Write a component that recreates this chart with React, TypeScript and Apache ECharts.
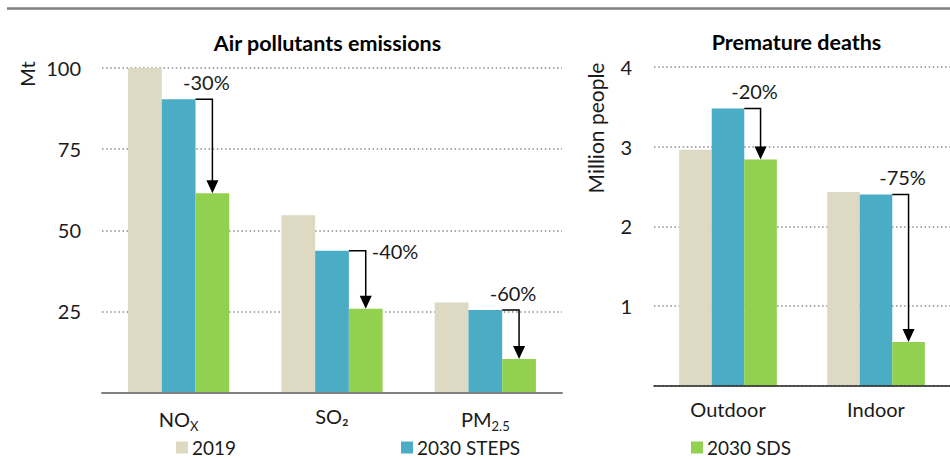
import React, { useEffect, useRef } from "react";
import * as echarts from "echarts";

// ---------- data ----------
const emissionCategories = ["NOX", "SO₂", "PM2.5"];
const emissions2019 = [100, 54.6, 27.7];
const emissionsSteps = [90.4, 43.7, 25.4];
const emissionsSds = [61.4, 25.8, 10.3];
const emissionChangeLabels = ["-30%", "-40%", "-60%"];
const emissionTicks = [0, 25, 50, 75, 100];

const deathCategories = ["Outdoor", "Indoor"];
const deaths2019 = [2.96, 2.43];
const deathsSteps = [3.48, 2.4];
const deathsSds = [2.84, 0.55];
const deathChangeLabels = ["-20%", "-75%"];
const deathTicks = [0, 1, 2, 3, 4];

const seriesNames = ["2019", "2030 STEPS", "2030 SDS"];

// ---------- style ----------
const COLORS = ["#DDD9C3", "#4BACC6", "#92D050"];
const FONT = "Lato";
const TEXT = "#1a1a1a";
const emissionLabelPlacement = ["above", "right", "above"];
const deathLabelPlacement = ["above", "above"];

const catLabelMap: Record<string, string> = {
  NOX: "NO{sub|X}",
  "PM2.5": "PM{sub|2.5}",
};

function arrowSeries(
  gridIndex: number,
  steps: number[],
  sds: number[],
  labels: string[],
  placement: string[]
) {
  return {
    type: "custom",
    xAxisIndex: gridIndex,
    yAxisIndex: gridIndex,
    silent: true,
    z: 10,
    data: steps.map((v, i) => [i, v, sds[i]]),
    renderItem: (params: any, api: any) => {
      const i = api.value(0);
      const top = api.coord([i, api.value(1)]);
      const bot = api.coord([i, api.value(2)]);
      const band = api.size([1, 0])[0];
      const barW = band * 0.22;
      const cx = top[0];
      const x0 = cx + barW / 2;
      const x1 = cx + barW;
      const yTop = top[1];
      const yBot = bot[1];
      const head = 13;
      const place = placement[i];
      const text =
        place === "right"
          ? { x: x1 + 6, y: yTop, align: "left", verticalAlign: "middle" }
          : { x: x1 - 6, y: yTop - 17, align: "center", verticalAlign: "middle" };
      return {
        type: "group",
        children: [
          {
            type: "polyline",
            shape: { points: [[x0, yTop], [x1, yTop], [x1, yBot - head + 1]] },
            style: { stroke: "#000", lineWidth: 1.5, fill: null },
          },
          {
            type: "polygon",
            shape: { points: [[x1 - 6, yBot - head], [x1 + 6, yBot - head], [x1, yBot]] },
            style: { fill: "#000" },
          },
          {
            type: "text",
            style: {
              text: labels[i],
              x: text.x,
              y: text.y,
              align: text.align,
              verticalAlign: text.verticalAlign,
              fill: TEXT,
              fontSize: 20,
              fontFamily: FONT,
            },
          },
        ],
      };
    },
  };
}

function barSeries(gridIndex: number, name: string, data: number[], color: string) {
  return {
    type: "bar",
    name,
    xAxisIndex: gridIndex,
    yAxisIndex: gridIndex,
    data,
    barWidth: "22%",
    barGap: "0%",
    itemStyle: { color },
  };
}

export default function App() {
  const ref = useRef<HTMLDivElement>(null);
  useEffect(() => {
    if (!ref.current) return;
    const chart = echarts.init(ref.current, undefined, { renderer: "svg" });
    const yAxisCommon = (ticks: number[], margin: number) => ({
      type: "value",
      min: ticks[0],
      max: ticks[ticks.length - 1],
      interval: ticks[1] - ticks[0],
      axisLine: { show: false },
      axisTick: { show: false },
      axisLabel: {
        showMinLabel: false,
        color: TEXT,
        fontSize: 20,
        fontFamily: FONT,
        margin,
      },
      splitLine: {
        show: true,
        lineStyle: { color: "#8c8c8c", width: 1.5, type: [1.5, 2.6] },
      },
    });
    const xAxisCommon = (cats: string[], lineColor: string, lineWidth: number) => ({
      type: "category",
      data: cats,
      axisTick: { show: false },
      axisLine: { show: true, lineStyle: { color: lineColor, width: lineWidth } },
      axisLabel: {
        color: TEXT,
        fontSize: 20,
        fontFamily: FONT,
        margin: 13,
        formatter: (v: string) => catLabelMap[v] ?? v,
        rich: {
          sub: { fontSize: 13, fontFamily: FONT, color: TEXT, padding: [14, 0, 0, 0] },
        },
      },
      z: 5,
    });
    const legendItem = (name: string, left: number) => ({
      left,
      top: 438,
      padding: 0,
      itemWidth: 12,
      itemHeight: 12,
      icon: "rect",
      selectedMode: false,
      data: [name],
      textStyle: { color: TEXT, fontSize: 19, lineHeight: 16, fontFamily: FONT, padding: [0, 0, 0, -1] },
    });
    chart.setOption({
      animation: false,
      backgroundColor: "#fff",
      grid: [
        { left: 102, right: 388, top: 68, bottom: 66.5 },
        { left: 654, right: -2, top: 67, bottom: 73.3 },
      ],
      xAxis: [
        { ...xAxisCommon(emissionCategories, "#808080", 2), gridIndex: 0 },
        { ...xAxisCommon(deathCategories, "#222", 1.5), gridIndex: 1 },
      ],
      yAxis: [
        { ...yAxisCommon(emissionTicks, 21), gridIndex: 0 },
        { ...yAxisCommon(deathTicks, 22), gridIndex: 1 },
      ],
      legend: [
        legendItem(seriesNames[0], 176),
        legendItem(seriesNames[1], 401),
        legendItem(seriesNames[2], 691),
      ],
      series: [
        barSeries(0, seriesNames[0], emissions2019, COLORS[0]),
        barSeries(0, seriesNames[1], emissionsSteps, COLORS[1]),
        barSeries(0, seriesNames[2], emissionsSds, COLORS[2]),
        barSeries(1, seriesNames[0], deaths2019, COLORS[0]),
        barSeries(1, seriesNames[1], deathsSteps, COLORS[1]),
        barSeries(1, seriesNames[2], deathsSds, COLORS[2]),
        arrowSeries(0, emissionsSteps, emissionsSds, emissionChangeLabels, emissionLabelPlacement),
        arrowSeries(1, deathsSteps, deathsSds, deathChangeLabels, deathLabelPlacement),
      ],
      graphic: [
        {
          type: "line",
          shape: { x1: 7, y1: 8.5, x2: 950, y2: 8.5 },
          style: { stroke: "#808080", lineWidth: 2.5 },
        },
        {
          type: "text",
          x: 327.5,
          y: 43,
          style: {
            text: "Air pollutants emissions",
            align: "center",
            verticalAlign: "middle",
            fontSize: 21.5,
            fontWeight: "bold",
            fontFamily: FONT,
            fill: "#000",
          },
        },
        {
          type: "text",
          x: 796.5,
          y: 42,
          style: {
            text: "Premature deaths",
            align: "center",
            verticalAlign: "middle",
            fontSize: 21.5,
            fontWeight: "bold",
            fontFamily: FONT,
            fill: "#000",
          },
        },
        {
          type: "text",
          x: 27,
          y: 74,
          rotation: Math.PI / 2,
          style: {
            text: "Mt",
            align: "center",
            verticalAlign: "middle",
            fontSize: 20,
            fontFamily: FONT,
            fill: TEXT,
          },
        },
        {
          type: "text",
          x: 595,
          y: 128,
          rotation: Math.PI / 2,
          style: {
            text: "Million people",
            align: "center",
            verticalAlign: "middle",
            fontSize: 21,
            fontFamily: FONT,
            fill: TEXT,
          },
        },
      ],
    });
    return () => chart.dispose();
  }, []);
  return (
    <div
      ref={ref}
      style={{ position: "fixed", left: 0, top: 0, width: 950, height: 459, background: "#fff" }}
    />
  );
}
